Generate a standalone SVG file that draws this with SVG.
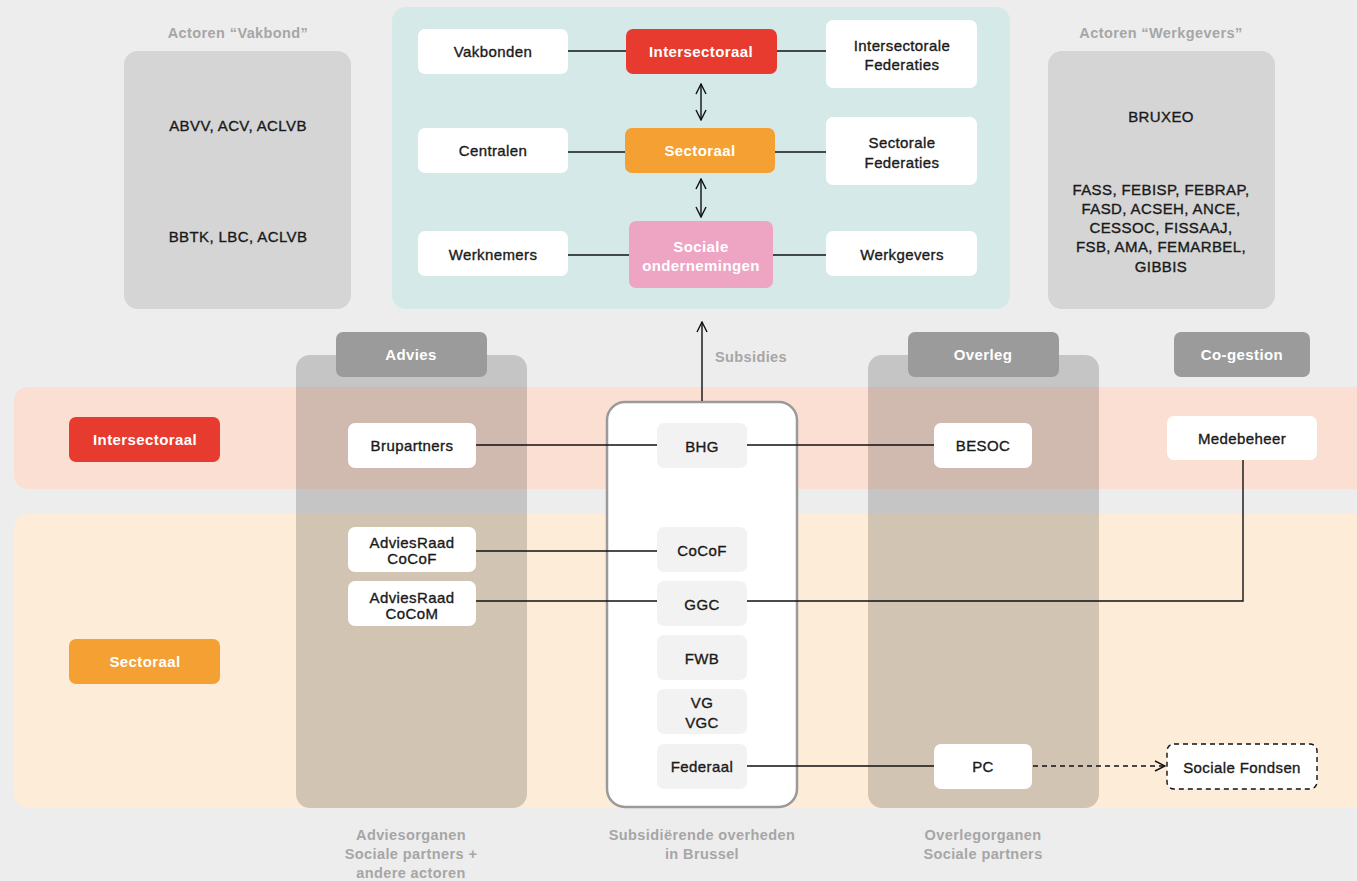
<svg xmlns="http://www.w3.org/2000/svg" width="1357" height="881" viewBox="0 0 1357 881">
<defs>
<style>
text{font-family:"Liberation Sans",Arial,sans-serif;font-size:15px;font-weight:400;letter-spacing:0.4px;fill:#1a1a1a;stroke:#1a1a1a;stroke-width:0.35px;text-anchor:middle;dominant-baseline:central}
.wt{fill:#fff;stroke:none;font-weight:700}
.g{fill:#a6a6a6;stroke:none;font-weight:700;font-size:14.5px}
.card{fill:#fff}
.gov{fill:#f2f2f2}
.hdr{fill:#9b9b9b}
.col{fill:#000;fill-opacity:0.17}
.ln{stroke:#111;stroke-width:1.4;fill:none}
</style>
<marker id="ah" viewBox="0 0 12 12" refX="11" refY="6" markerWidth="12" markerHeight="12" markerUnits="userSpaceOnUse" orient="auto-start-reverse">
<path d="M1,1 L11,6 L1,11" fill="none" stroke="#111" stroke-width="1.4"/>
</marker>
</defs>
<rect width="1357" height="881" fill="#ededed"/>

<g id="actoren-vakbond">
<text class="g" x="238" y="33">Actoren “Vakbond”</text>
<rect x="124" y="51" width="227" height="258" rx="14" fill="#d5d5d5"/>
<text x="238" y="125">ABVV, ACV, ACLVB</text>
<text x="238" y="236">BBTK, LBC, ACLVB</text>
</g>

<g id="actoren-werkgevers">
<text class="g" x="1161" y="33">Actoren “Werkgevers”</text>
<rect x="1048" y="51" width="227" height="258" rx="14" fill="#d5d5d5"/>
<text x="1161" y="116">BRUXEO</text>
<text x="1161" y="189">FASS, FEBISP, FEBRAP,</text>
<text x="1161" y="208">FASD, ACSEH, ANCE,</text>
<text x="1161" y="227">CESSOC, FISSAAJ,</text>
<text x="1161" y="246">FSB, AMA, FEMARBEL,</text>
<text x="1161" y="266">GIBBIS</text>
</g>

<g id="panel-top">
<rect x="392" y="7" width="618" height="302" rx="14" fill="#d5e9e9"/>
</g>

<g id="bands">
<rect x="14" y="387" width="1360" height="102" rx="14" fill="#fadfd2"/>
<rect x="14" y="514" width="1360" height="294" rx="14" fill="#fdecd8"/>
</g>

<g id="col-advies">
<rect class="col" x="296" y="355" width="231" height="453" rx="14"/>
<rect class="hdr" x="336" y="332" width="151" height="45" rx="7"/>
<text class="wt" x="411" y="354">Advies</text>
</g>
<g id="col-overleg">
<rect class="col" x="868" y="355" width="231" height="453" rx="14"/>
<rect class="hdr" x="908" y="332" width="151" height="45" rx="7"/>
<text class="wt" x="983" y="354">Overleg</text>
</g>
<g id="col-cogestion">
<rect class="hdr" x="1174" y="332" width="136" height="45" rx="7"/>
<text class="wt" x="1242" y="354">Co-gestion</text>
</g>

<g id="col-overheden">
<rect x="607" y="402" width="190" height="405" rx="18" fill="#fff" stroke="#9a9a9a" stroke-width="2.5"/>
</g>

<g id="connectors">
<line class="ln" x1="568" y1="51" x2="626" y2="51"/>
<line class="ln" x1="777" y1="51" x2="826" y2="51"/>
<line class="ln" x1="568" y1="152" x2="625" y2="152"/>
<line class="ln" x1="775" y1="152" x2="826" y2="152"/>
<line class="ln" x1="568" y1="255" x2="629" y2="255"/>
<line class="ln" x1="773" y1="255" x2="826" y2="255"/>
<line class="ln" x1="701" y1="84" x2="701" y2="120" marker-start="url(#ah)" marker-end="url(#ah)"/>
<line class="ln" x1="701" y1="179" x2="701" y2="217" marker-start="url(#ah)" marker-end="url(#ah)"/>
<line class="ln" x1="702" y1="401" x2="702" y2="322" marker-end="url(#ah)"/>
<line class="ln" x1="476" y1="445" x2="657" y2="445"/>
<line class="ln" x1="747" y1="445" x2="934" y2="445"/>
<line class="ln" x1="476" y1="551" x2="657" y2="551"/>
<polyline class="ln" points="476,601 657,601"/>
<polyline class="ln" points="747,601 1243,601 1243,460"/>
<line class="ln" x1="747" y1="766" x2="934" y2="766"/>
<line class="ln" x1="1033" y1="766" x2="1165" y2="766" stroke-dasharray="5,4" marker-end="url(#ah)"/>
<text class="g" x="751" y="357">Subsidies</text>
</g>

<g id="n-vakbonden"><rect class="card" x="418" y="29" width="150" height="45" rx="7"/><text x="493" y="51">Vakbonden</text></g>
<g id="n-intersectoraal-top"><rect x="626" y="29" width="151" height="45" rx="7" fill="#e63b2e"/><text class="wt" x="701" y="51">Intersectoraal</text></g>
<g id="n-inter-federaties"><rect class="card" x="826" y="20" width="151" height="68" rx="7"/><text x="902" y="45">Intersectorale</text><text x="902" y="64">Federaties</text></g>
<g id="n-centralen"><rect class="card" x="418" y="128" width="150" height="45" rx="7"/><text x="493" y="150">Centralen</text></g>
<g id="n-sectoraal-top"><rect x="625" y="128" width="150" height="45" rx="7" fill="#f4a032"/><text class="wt" x="700" y="150">Sectoraal</text></g>
<g id="n-sect-federaties"><rect class="card" x="826" y="117" width="151" height="68" rx="7"/><text x="902" y="142">Sectorale</text><text x="902" y="162">Federaties</text></g>
<g id="n-werknemers"><rect class="card" x="418" y="231" width="150" height="45" rx="7"/><text x="493" y="254">Werknemers</text></g>
<g id="n-sociale-ond"><rect x="629" y="221" width="144" height="67" rx="7" fill="#eea5c4"/><text class="wt" x="701" y="246">Sociale</text><text class="wt" x="701" y="265">ondernemingen</text></g>
<g id="n-werkgevers"><rect class="card" x="826" y="231" width="151" height="45" rx="7"/><text x="902" y="254">Werkgevers</text></g>

<g id="n-intersectoraal"><rect x="69" y="417" width="151" height="45" rx="7" fill="#e63b2e"/><text class="wt" x="145" y="439">Intersectoraal</text></g>
<g id="n-sectoraal"><rect x="69" y="639" width="151" height="45" rx="7" fill="#f4a032"/><text class="wt" x="145" y="661">Sectoraal</text></g>

<g id="n-brupartners"><rect class="card" x="348" y="423" width="128" height="45" rx="7"/><text x="412" y="445">Brupartners</text></g>
<g id="n-adviesraad-cocof"><rect class="card" x="348" y="527" width="128" height="45" rx="7"/><text x="412" y="542">AdviesRaad</text><text x="412" y="558">CoCoF</text></g>
<g id="n-adviesraad-cocom"><rect class="card" x="348" y="581" width="128" height="45" rx="7"/><text x="412" y="597">AdviesRaad</text><text x="412" y="613">CoCoM</text></g>

<g id="n-bhg"><rect class="gov" x="657" y="423" width="90" height="45" rx="7"/><text x="702" y="446">BHG</text></g>
<g id="n-cocof"><rect class="gov" x="657" y="527" width="90" height="45" rx="7"/><text x="702" y="550">CoCoF</text></g>
<g id="n-ggc"><rect class="gov" x="657" y="581" width="90" height="45" rx="7"/><text x="702" y="604">GGC</text></g>
<g id="n-fwb"><rect class="gov" x="657" y="635" width="90" height="45" rx="7"/><text x="702" y="658">FWB</text></g>
<g id="n-vg"><rect class="gov" x="657" y="689" width="90" height="45" rx="7"/><text x="702" y="702">VG</text><text x="702" y="722">VGC</text></g>
<g id="n-federaal"><rect class="gov" x="657" y="744" width="90" height="45" rx="7"/><text x="702" y="766">Federaal</text></g>

<g id="n-besoc"><rect class="card" x="934" y="423" width="98" height="45" rx="7"/><text x="983" y="445">BESOC</text></g>
<g id="n-pc"><rect class="card" x="934" y="744" width="98" height="45" rx="7"/><text x="983" y="766">PC</text></g>
<g id="n-medebeheer"><rect class="card" x="1167" y="416" width="150" height="44" rx="7"/><text x="1242" y="438">Medebeheer</text></g>
<g id="n-sociale-fondsen"><rect class="card" x="1167" y="744" width="150" height="45" rx="7" stroke="#111" stroke-width="1.4" stroke-dasharray="5,4"/><text x="1242" y="767">Sociale Fondsen</text></g>

<g id="captions">
<text class="g" x="411" y="835">Adviesorganen</text>
<text class="g" x="411" y="854">Sociale partners +</text>
<text class="g" x="411" y="873">andere actoren</text>
<text class="g" x="702" y="835">Subsidiërende overheden</text>
<text class="g" x="702" y="854">in Brussel</text>
<text class="g" x="983" y="835">Overlegorganen</text>
<text class="g" x="983" y="854">Sociale partners</text>
</g>
</svg>
